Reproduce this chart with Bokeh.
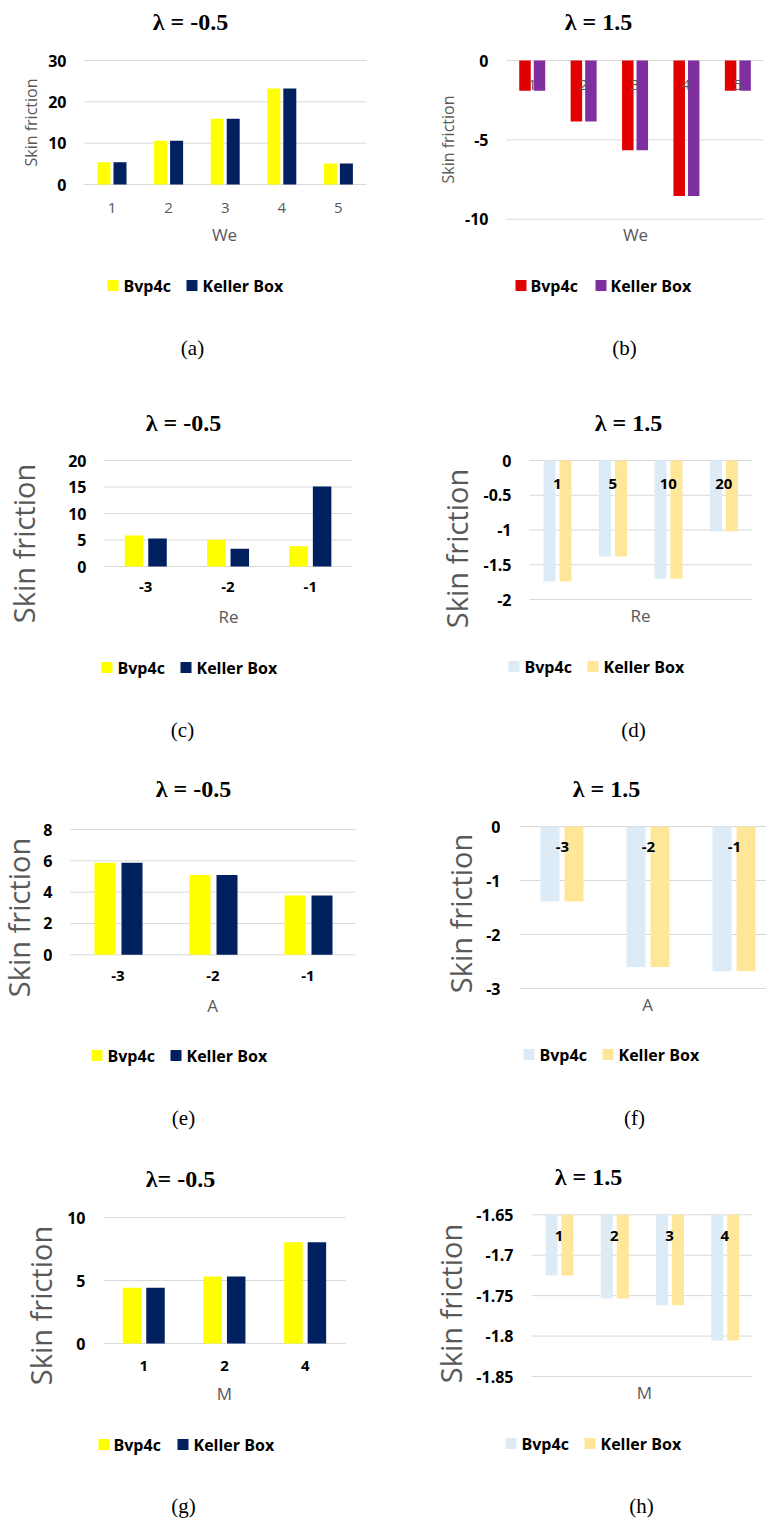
import math
from bokeh.plotting import figure
from bokeh.models import (Range1d, FixedTicker, CustomJSTickFormatter, Label,
                          BoxAnnotation, ColumnDataSource)
from bokeh.layouts import column, row
from bokeh.embed import file_html
from bokeh.resources import INLINE

# ---------------- data ----------------
series_names = ["Bvp4c", "Keller Box"]

we_cats = ["1", "2", "3", "4", "5"]
a_bvp4c = [5.4, 10.6, 15.9, 23.2, 5.1]
a_keller = [5.4, 10.6, 15.9, 23.2, 5.1]
a_yticks = [0, 10, 20, 30]

b_bvp4c = [-1.9, -3.84, -5.65, -8.54, -1.9]
b_keller = [-1.9, -3.84, -5.65, -8.54, -1.9]
b_yticks = [0, -5, -10]

re_cats_c = ["-3", "-2", "-1"]
c_bvp4c = [5.85, 5.03, 3.83]
c_keller = [5.3, 3.33, 15.1]
c_yticks = [0, 5, 10, 15, 20]

re_cats_d = ["1", "5", "10", "20"]
d_bvp4c = [-1.74, -1.38, -1.70, -1.02]
d_keller = [-1.74, -1.38, -1.70, -1.02]
d_yticks = [0, -0.5, -1, -1.5, -2]

a_cats_e = ["-3", "-2", "-1"]
e_bvp4c = [5.87, 5.10, 3.78]
e_keller = [5.87, 5.10, 3.78]
e_yticks = [0, 2, 4, 6, 8]

a_cats_f = ["-3", "-2", "-1"]
f_bvp4c = [-1.39, -2.60, -2.68]
f_keller = [-1.39, -2.60, -2.68]
f_yticks = [0, -1, -2, -3]

m_cats_g = ["1", "2", "4"]
g_bvp4c = [4.42, 5.32, 8.04]
g_keller = [4.42, 5.32, 8.04]
g_yticks = [0, 5, 10]

m_cats_h = ["1", "2", "3", "4"]
h_bvp4c = [-1.725, -1.7535, -1.762, -1.8055]
h_keller = [-1.725, -1.7535, -1.762, -1.8055]
h_yticks = [-1.65, -1.7, -1.75, -1.8, -1.85]

# ---------------- styles ----------------
YELLOW, NAVY = "#FFFF00", "#002060"
RED, PURPLE = "#E00000", "#7F2FA0"
LBLUE, LGOLD = "#DDEBF7", "#FFE699"
GRID = "#D9D9D9"
GRAY = "#595959"
SANS = "Open Sans"
SERIF = "Liberation Serif"


def panel(spec, cats, s1, s2, yticks, base, title, xlabel, caption):
    ox, oy, w, h = spec["box"]
    l, t, r, b = spec["frame"]
    cw, c0 = spec["cw"], spec["c0"]
    ymin, ymax = min(yticks), max(yticks)
    k = (b - t) / (ymax - ymin)

    def xd(px):
        return (px - (c0 - cw / 2)) / cw

    def yd(py):
        return ymin + (b - py) / k

    p = figure(width=w, height=h, output_backend="svg", toolbar_location=None,
               title=None,
               x_range=Range1d(xd(ox), xd(ox + w)), y_range=Range1d(yd(oy + h), yd(oy)),
               min_border_left=0, min_border_right=0, min_border_top=0,
               min_border_bottom=0)
    p.outline_line_color = None
    p.background_fill_color = "white"
    p.border_fill_color = "white"
    p.xgrid.visible = False
    p.ygrid.visible = False

    # horizontal gridlines limited to the plot area
    p.segment(x0=[xd(l)] * len(yticks), x1=[xd(r)] * len(yticks), y0=yticks, y1=yticks,
              line_color=GRID, line_width=1)

    yax = p.yaxis[0]
    yax.fixed_location = xd(l)
    yax.ticker = FixedTicker(ticks=yticks)
    yax.formatter = CustomJSTickFormatter(code="return String(Math.round(tick*1000)/1000)")
    yax.axis_line_color = None
    yax.major_tick_line_color = None
    yax.minor_tick_line_color = None
    yax.major_tick_out = 0
    yax.major_tick_in = 0
    yax.major_label_standoff = round(l - spec["ylab_right"])
    yax.major_label_text_font = SANS
    yax.major_label_text_font_style = "bold"
    yax.major_label_text_font_size = "16px"
    yax.major_label_text_color = "black"

    n = len(cats)
    centers = [i + 0.5 for i in range(n)]
    xax = p.xaxis[0]
    xax.fixed_location = base
    xax.ticker = FixedTicker(ticks=centers)
    xax.formatter = CustomJSTickFormatter(args=dict(labels=cats),
                                          code="return labels[Math.floor(tick)]")
    xax.axis_line_color = None
    xax.major_tick_line_color = None
    xax.minor_tick_line_color = None
    xax.major_tick_out = 0
    xax.major_tick_in = 0
    xax.major_label_text_font = SANS
    xax.major_label_text_font_size = "15px"
    xax.major_label_text_font_style = spec["xstyle"]
    xax.major_label_text_color = spec["xcolor"]
    xax.major_label_standoff = spec["xstandoff"]

    bw = spec["bw"] / cw
    o1, o2 = spec["offs"][0] / cw, spec["offs"][1] / cw
    src = ColumnDataSource(dict(x1=[c + o1 for c in centers], x2=[c + o2 for c in centers],
                                v1=s1, v2=s2, base=[base] * n))
    c1, c2 = spec["colors"]
    p.vbar(x="x1", width=bw, top="v1", bottom="base", source=src,
           fill_color=c1, line_color=None)
    p.vbar(x="x2", width=bw, top="v2", bottom="base", source=src,
           fill_color=c2, line_color=None)

    def lab(text, pos, font, size, style, color, angle=0.0, align="center"):
        px, py = pos
        p.add_layout(Label(x=px - ox, y=oy + h - py, x_units="screen", y_units="screen",
                           text=text, text_font=font, text_font_size=size,
                           text_font_style=style, text_color=color, angle=angle,
                           text_align=align, text_baseline="middle"))

    lab(title, spec["title"], SERIF, "24px", "bold", "black")
    lab(xlabel, spec["xlabel"], SANS, "17px", "normal", GRAY)
    lab("Skin friction", spec["ylabel"], SANS, spec["ysize"], "normal", GRAY, math.pi / 2)
    lab(caption, spec["caption"], SERIF, "21px", "normal", "black")

    # legend: colour keys + bold labels
    (sq1, tx1, sq2, tx2), ly = spec["legend"]
    for sq, tx, col, name in ((sq1, tx1, c1, series_names[0]),
                              (sq2, tx2, c2, series_names[1])):
        p.add_layout(BoxAnnotation(left=xd(sq), right=xd(sq + 11),
                                   bottom=yd(ly + 5.5), top=yd(ly - 5.5),
                                   fill_color=col, fill_alpha=1.0, line_color=None))
        lab(name, (tx, ly), SANS, "16px", "bold", "black", align="left")
    return p


spec_a = dict(box=(0, 0, 383, 372), frame=(83, 60, 366, 184), cw=56.6, c0=111.5,
              bw=13, offs=(-8, 8), colors=(YELLOW, NAVY), ylab_right=66,
              xstyle="normal", xcolor=GRAY, xstandoff=18,
              title=(190, 21), xlabel=(224, 234), ylabel=(30, 122), ysize="16px",
              legend=((107, 123, 186, 202), 285), caption=(192, 347))
spec_b = dict(box=(383, 0, 383, 372), frame=(506, 60, 763, 218.7), cw=51.4, c0=531.7,
              bw=11.5, offs=(-7.2, 7.3), colors=(RED, PURPLE), ylab_right=488,
              xstyle="normal", xcolor=GRAY, xstandoff=19,
              title=(598, 21), xlabel=(635, 234), ylabel=(447, 139), ysize="16px",
              legend=((515, 530, 595, 610), 285), caption=(624, 347))
spec_c = dict(box=(0, 372, 383, 380), frame=(104, 460, 351, 566), cw=82.3, c0=145.2,
              bw=18.5, offs=(-11.7, 11.8), colors=(YELLOW, NAVY), ylab_right=86,
              xstyle="bold", xcolor="black", xstandoff=15,
              title=(183, 422), xlabel=(228, 616), ylabel=(23, 543), ysize="29px",
              legend=((101, 117, 180, 196), 667), caption=(182, 729))
spec_d = dict(box=(383, 372, 383, 380), frame=(529, 460, 751, 599), cw=55.5, c0=556.75,
              bw=12, offs=(-7.75, 8.25), colors=(LBLUE, LGOLD), ylab_right=511,
              xstyle="bold", xcolor="black", xstandoff=18,
              title=(628, 422), xlabel=(640, 615), ylabel=(456, 548), ysize="29px",
              legend=((508, 524, 587, 603), 666), caption=(633, 729))
spec_e = dict(box=(0, 752, 383, 380), frame=(70, 829, 355, 954.3), cw=95, c0=117.5,
              bw=21, offs=(-13, 14), colors=(YELLOW, NAVY), ylab_right=52,
              xstyle="bold", xcolor="black", xstandoff=16,
              title=(193, 788), xlabel=(212, 1005), ylabel=(18, 917), ysize="29px",
              legend=((91, 107, 170, 186), 1055), caption=(183, 1117))
spec_f = dict(box=(383, 752, 383, 380), frame=(519, 826, 766, 988), cw=86, c0=562,
              bw=19, offs=(-12.5, 11.5), colors=(LBLUE, LGOLD), ylab_right=500,
              xstyle="bold", xcolor="black", xstandoff=15,
              title=(606, 788), xlabel=(647, 1004), ylabel=(460, 913), ysize="29px",
              legend=((523, 539, 602, 618), 1054), caption=(634, 1117))
spec_g = dict(box=(0, 1132, 383, 387), frame=(103, 1217, 345, 1343), cw=80.7, c0=143.3,
              bw=18.5, offs=(-11.8, 11.7), colors=(YELLOW, NAVY), ylab_right=85,
              xstyle="bold", xcolor="black", xstandoff=17,
              title=(180, 1178), xlabel=(224, 1393), ylabel=(40, 1305), ysize="29px",
              legend=((98, 113, 177, 193), 1444), caption=(183, 1505))
spec_h = dict(box=(383, 1132, 383, 387), frame=(531, 1214.3, 752, 1376), cw=55.25, c0=558.6,
              bw=12, offs=(-7.6, 8.4), colors=(LBLUE, LGOLD), ylab_right=513,
              xstyle="bold", xcolor="black", xstandoff=16,
              title=(588, 1176), xlabel=(644, 1392), ylabel=(450, 1303), ysize="29px",
              legend=((505, 521, 584, 600), 1443), caption=(641, 1505))

pa = panel(spec_a, we_cats, a_bvp4c, a_keller, a_yticks, 0, "λ = -0.5", "We", "(a)")
pb = panel(spec_b, we_cats, b_bvp4c, b_keller, b_yticks, 0, "λ = 1.5", "We", "(b)")
pc = panel(spec_c, re_cats_c, c_bvp4c, c_keller, c_yticks, 0, "λ = -0.5", "Re", "(c)")
pd = panel(spec_d, re_cats_d, d_bvp4c, d_keller, d_yticks, 0, "λ = 1.5", "Re", "(d)")
pe = panel(spec_e, a_cats_e, e_bvp4c, e_keller, e_yticks, 0, "λ = -0.5", "A", "(e)")
pf = panel(spec_f, a_cats_f, f_bvp4c, f_keller, f_yticks, 0, "λ = 1.5", "A", "(f)")
pg = panel(spec_g, m_cats_g, g_bvp4c, g_keller, g_yticks, 0, "λ= -0.5", "M", "(g)")
ph = panel(spec_h, m_cats_h, h_bvp4c, h_keller, h_yticks, -1.65, "λ = 1.5", "M", "(h)")

layout = column(row(pa, pb, spacing=0), row(pc, pd, spacing=0),
                row(pe, pf, spacing=0), row(pg, ph, spacing=0), spacing=0)

open("out.html", "w").write(file_html(layout, INLINE))
